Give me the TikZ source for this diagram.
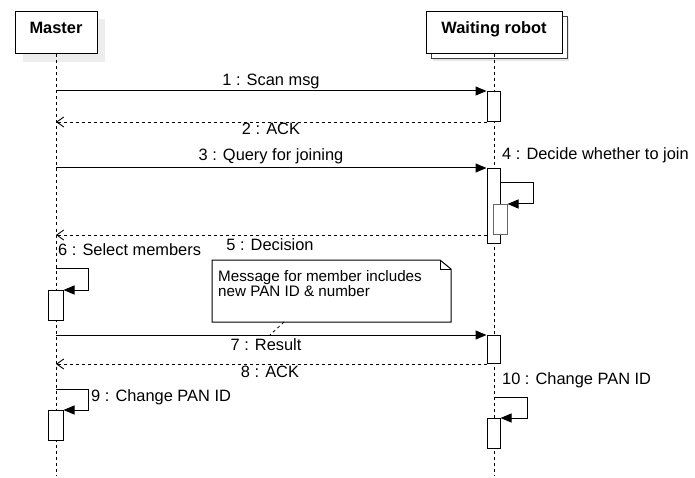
\documentclass[tikz,border=0pt]{standalone}
\usepackage{fontspec}
\setmainfont{Liberation Sans}
\usetikzlibrary{arrows.meta}

\tikzset{
  lbl/.style={font=\fontsize{16.4}{19}\selectfont, inner sep=0pt},
  notetxt/.style={font=\fontsize{15.2}{14}\selectfont, inner sep=0pt,
    text height=11pt, text depth=2.5pt, anchor=base west},
  hdr/.style={draw, fill=white, line width=1pt, inner sep=0pt},
  hdrtext/.style={font=\bfseries\fontsize{16.4}{19}\selectfont, inner sep=0pt},
  act/.style={draw, fill=white, line width=1pt, inner sep=0pt,
    minimum width=13pt},
  lifeline/.style={line width=0.9pt, dash pattern=on 3pt off 3pt},
  msg/.style={line width=1pt, -{Triangle[length=11pt,width=9pt]}},
  reply/.style={line width=0.9pt, dash pattern=on 3pt off 3pt,
    -{Straight Barb[length=7pt,width=10pt]}},
}

\begin{document}
\begin{tikzpicture}[x=1pt,y=-1pt]
\useasboundingbox (0,0) rectangle (695,478);

% header boxes with their shadows
\fill[black!7] (23,19) rectangle (105,62);
\node[hdr, minimum width=82pt, minimum height=42pt] (master) at (56,33) {};
\node[hdrtext, anchor=base] (mastertext) at (56,33.3) {Master};

\fill[black!10] (433,19) rectangle (569,61);
\draw[line width=1pt, draw=black!75, fill=white] (431,17) rectangle (567,59);
\node[hdr, minimum width=136pt, minimum height=42pt] (robot) at (494,33) {};
\node[hdrtext, anchor=base] (robottext) at (494,33.3) {Waiting robot};

% lifelines
\coordinate (mend) at (56,476);
\coordinate (rend) at (494,476);
\draw[lifeline] (master.south) -- (mend);
\draw[lifeline] (robot.south) -- (rend);

% activation bars
\node[act, minimum height=30pt, anchor=north] (a1) at (493.5,91) {};
\node[act, minimum height=75pt, anchor=north] (a2) at (493.5,168) {};
\node[act, draw=black!60, minimum height=30pt, minimum width=14pt, anchor=north] (a4) at (500,204) {};
\node[act, minimum height=30pt, minimum width=15pt, anchor=north] (a6) at (55.5,290) {};
\node[act, minimum height=28pt, anchor=north] (a7) at (493.5,335) {};
\node[act, minimum height=30pt, minimum width=15pt, anchor=north] (a9) at (55.5,410) {};
\node[act, minimum height=30pt, anchor=north] (a10) at (493.5,418) {};

% 1, 2
\draw[msg] (master |- a1.north west) -- (a1.north west);
\node[lbl, anchor=base] (l1) at (271,86) {1 : Scan msg};
\draw[reply] (a1.south west) -- (master |- a1.south west);
\node[lbl, anchor=base] (l2) at (271,135) {2 : ACK};

% 3, 4, 5
\draw[msg] (master |- a2.north west) -- (a2.north west);
\node[lbl, anchor=base] (l3) at (271,161) {3 : Query for joining};
\coordinate (s4) at (500,183);
\draw[msg] (s4) -- (533,183) -- (533,204) -- (a4.north east);
\node[lbl, anchor=base west] (l4) at (502,160) {4 : Decide whether to join};
\draw[reply] (a2.west |- a4.south) -- (master |- a4.south);
\node[lbl, anchor=base] (l5) at (270,250) {5 : Decision};

% 6
\coordinate (s6) at (56,268);
\draw[msg] (s6) -- (88,268) -- (88,290) -- (a6.north east);
\node[lbl, anchor=base west] (l6) at (58,255) {6 : Select members};

% note with folded corner, attached to message 7
\coordinate (nw) at (212,260);
\coordinate (ne) at (451,260);
\coordinate (se) at (451,322);
\coordinate (sw) at (212,322);
\draw[line width=1pt, fill=white]
  (nw) -- ([xshift=-11pt]ne) -- ([yshift=-9pt]ne) -- (se) -- (sw) -- cycle;
\draw[line width=1pt] ([xshift=-11pt]ne) -- ([xshift=-11pt,yshift=-9pt]ne)
  -- ([yshift=-9pt]ne);
\node[notetxt] (note1) at (218,281) {Message for member includes};
\node[notetxt] (note2) at (218,296.5) {new PAN ID \& number};

% 7, 8
\draw[msg] (master |- a7.north west) -- (a7.north west);
\coordinate (nanchor) at (284,322);
\coordinate (n7) at (270,335);
\draw[line width=0.8pt, dash pattern=on 3pt off 3pt] (nanchor) -- (n7);
\node[lbl, anchor=base] (l7) at (266,350) {7 : Result};
\draw[reply] (a7.south west) -- (master |- a7.south west);
\node[lbl, anchor=base] (l8) at (270,377) {8 : ACK};

% 9
\coordinate (s9) at (56,389);
\draw[msg] (s9) -- (88,389) -- (88,410) -- (a9.north east);
\node[lbl, anchor=base west] (l9) at (91,401) {9 : Change PAN ID};

% 10
\coordinate (s10) at (494,397);
\draw[msg] (s10) -- (527,397) -- (527,418) -- (a10.north east);
\node[lbl, anchor=base west] (l10) at (502,384) {10 : Change PAN ID};
\end{tikzpicture}
\end{document}
